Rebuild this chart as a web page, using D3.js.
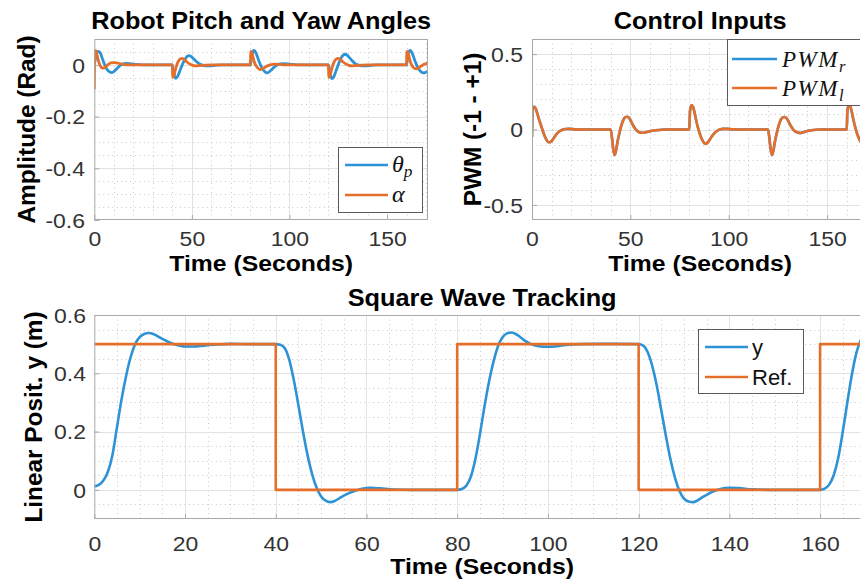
<!DOCTYPE html>
<html>
<head>
<meta charset="utf-8">
<script src="https://cdn.jsdelivr.net/npm/d3@7"></script>
<style>
  body { margin: 0; background: #fff; }
  svg { display: block; }
</style>
</head>
<body>
<svg id="fig" width="860" height="582"></svg>
<script>
// ---------------- data ----------------
const timeDomain = [0, 171];

// pitch angle theta_p (rad)
const pitchTime = [0,0.5,1,2,3,4,5,6,7,8,9,10,11,12,13,14.5,16,18,20,23,27,40,
  40.3,41,41.7,42.5,43.5,44.5,45.5,46.5,47.5,48.5,49.5,50.5,52,53.5,55,57,59,62,66,80,
  80.3,81,81.8,82.6,83.5,84.5,85.5,86.5,87.5,88.5,89.5,90.5,92,93.5,95,97,100,104,120,
  120.3,121,121.8,122.6,123.5,124.5,125.5,126.5,127.5,128.5,129.5,130.5,132,133.5,135,137,139,142,146,160,
  160.3,161,161.8,162.6,163.5,164.5,165.5,166.5,167.5,168.5,169.5,170.5,171];
const pitchValues = [0,0.02,0.04,0.052,0.047,0.027,0.006,-0.011,-0.022,-0.028,-0.03,-0.026,-0.019,-0.011,-0.004,0.003,0.006,0.005,0.003,0.001,0,0,
  -0.01,-0.04,-0.052,-0.047,-0.03,-0.01,0.008,0.022,0.032,0.036,0.033,0.026,0.015,0.006,0,-0.004,-0.004,-0.002,0,0,
  0.012,0.045,0.056,0.05,0.033,0.012,-0.006,-0.019,-0.027,-0.031,-0.028,-0.021,-0.01,-0.002,0.004,0.005,0.003,0,0,
  -0.01,-0.04,-0.053,-0.048,-0.031,-0.01,0.01,0.027,0.037,0.041,0.038,0.03,0.017,0.006,0,-0.004,-0.004,-0.002,0,0,
  0.012,0.045,0.056,0.05,0.033,0.012,-0.006,-0.019,-0.027,-0.031,-0.03,-0.027,-0.025];

// yaw angle alpha (rad)
const yawTime = [0,0.3,0.8,1.5,2.5,3.5,4.5,5.5,6.5,7.5,8.5,10,11.5,13,15,18,40,
  40.1,40.6,41.3,42,43,44,45,46,47.5,49,50.5,52,54,57,60,80,
  80.1,80.6,81.3,82,83,84,85,86,87.5,89,90.5,92,95,98,120,
  120.1,120.6,121.3,122,123,124,125,126,127.5,129,130.5,132,134,137,140,160,
  160.1,160.6,161.3,162,163,164,165,166,167.5,169,170,171];
const yawValues = [-0.095,0.055,0.055,0.035,0.006,-0.009,-0.013,-0.01,-0.003,0.004,0.008,0.009,0.008,0.005,0.002,0,0,
  -0.048,-0.046,-0.027,-0.007,0.013,0.023,0.025,0.021,0.011,0.003,-0.002,-0.004,-0.003,-0.001,0,0,
  0.052,0.05,0.031,0.011,-0.005,-0.014,-0.018,-0.016,-0.009,-0.003,0.001,0.003,0.002,0,0,
  -0.048,-0.046,-0.027,-0.007,0.013,0.023,0.025,0.021,0.011,0.003,-0.002,-0.004,-0.003,-0.001,0,0,
  0.052,0.05,0.031,0.011,-0.005,-0.013,-0.015,-0.012,-0.005,0.002,0.005,0.007];

// motor commands (normalised PWM)
const pwmTime = [0,0.3,1,1.8,2.6,3.5,4.5,5.5,6.5,7.5,8.5,9.5,10.5,11.5,12.5,14,15.5,17,19,22,26,40,
  40.6,41.3,42,42.7,43.5,44.5,45.5,46.5,47.5,48.5,49.5,50.5,51.5,52.5,53.5,55,56.5,58,60,62,65,68,80,
  80.3,81,81.7,82.5,83.3,84.2,85.2,86.2,87.2,88.2,89.2,90.2,91.2,92.5,94,95.5,97,99,102,106,120,
  120.6,121.3,122,122.7,123.5,124.5,125.5,126.5,127.5,128.5,129.5,130.5,131.5,132.5,133.5,135,136.5,138,140,143,146,160,
  160.3,161,161.7,162.5,163.3,164.2,165.2,166.2,167.2,168.2,169.2,170.2,171];
const pwmRightValues = [-0.05,0.14,0.15,0.14,0.11,0.07,0.03,-0.01,-0.045,-0.072,-0.085,-0.082,-0.068,-0.048,-0.03,-0.012,-0.002,0.003,0.004,0.001,0,0,
  -0.05,-0.13,-0.17,-0.14,-0.08,-0.02,0.03,0.065,0.082,0.085,0.075,0.05,0.025,0.005,-0.01,-0.02,-0.022,-0.018,-0.012,-0.007,-0.003,0,0,
  0.12,0.16,0.155,0.12,0.07,0.02,-0.025,-0.06,-0.085,-0.095,-0.088,-0.07,-0.05,-0.028,-0.01,0,0.004,0.004,0.001,0,0,
  -0.05,-0.13,-0.17,-0.14,-0.08,-0.02,0.03,0.065,0.08,0.083,0.073,0.05,0.025,0.005,-0.01,-0.02,-0.023,-0.018,-0.01,-0.003,0,0,
  0.12,0.16,0.155,0.12,0.07,0.02,-0.025,-0.06,-0.085,-0.095,-0.088,-0.07,-0.055];
// both motors receive the same command
const pwmLeftValues = pwmRightValues.slice();

// square-wave tracking: measured position y and reference
const trackTime = [0,1,2,3,4,5,6,7,8,9,10,11,12,13,14,15,16,18,20,22,24,27,30,35,40,
  41,42,43,44,45,46,47,48,49,50,51,52,53,54,55,56,57.5,59,61,63,66,70,80,
  81,82,83,84,85,86,87,88,89,90,91,92,93,94,95,96,98,100,102,104,107,112,120,
  121,122,123,124,125,126,127,128,129,130,131,132,133,134,135,136.5,138,140,142,145,150,160,
  161,162,163,164,165,166,167,168,169,170,171];
const trackValues = [0.012,0.017,0.032,0.062,0.12,0.215,0.31,0.39,0.455,0.5,0.524,0.535,0.538,0.535,0.527,0.518,0.51,0.498,0.492,0.492,0.495,0.499,0.501,0.5,0.5,
  0.498,0.486,0.445,0.375,0.29,0.2,0.12,0.055,0.008,-0.023,-0.037,-0.042,-0.038,-0.029,-0.02,-0.012,-0.003,0.004,0.007,0.005,0.001,0,0,
  0.003,0.014,0.045,0.105,0.19,0.285,0.37,0.44,0.493,0.524,0.537,0.54,0.534,0.523,0.511,0.502,0.493,0.491,0.493,0.497,0.5,0.501,0.5,
  0.495,0.472,0.425,0.357,0.272,0.186,0.106,0.042,-0.004,-0.03,-0.04,-0.042,-0.036,-0.026,-0.017,-0.005,0.003,0.007,0.006,0.002,0,0,
  0.004,0.018,0.05,0.11,0.2,0.3,0.395,0.47,0.515,0.535,0.542];
const refTime = [0, 40, 80, 120, 160, 171];
const refValues = [0.5, 0, 0.5, 0, 0.5, 0.5];

// ticks
const angleTicksX = [0, 50, 100, 150];
const angleTicksY = [-0.6, -0.4, -0.2, 0];
const pwmTicksX = [0, 50, 100, 150];
const pwmTicksY = [-0.5, 0, 0.5];
const trackTicksX = [0, 20, 40, 60, 80, 100, 120, 140, 160];
const trackTicksY = [0, 0.2, 0.4, 0.6];

// ---------------- drawing ----------------
const BLUE = "#2E93D6";
const ORANGE = "#E56F2A";
const SANS = "'Liberation Sans', Arial, Helvetica, sans-serif";
const SERIF = "'Liberation Serif', 'Times New Roman', serif";
const fmt = d3.formatLocale({decimal: ".", thousands: ",", grouping: [3], currency: ["", ""], minus: "-"}).format("");

const svg = d3.select("#fig");
svg.append("rect").attr("width", 860).attr("height", 582).attr("fill", "#fff");

// text with slight horizontal widening along its own direction
function label(g, str, x, y, o = {}) {
  const t = g.append("text")
    .attr("transform", `translate(${x},${y})` + (o.rotate ? ` rotate(${o.rotate})` : "") + ` scale(${o.sx || 1},1)`)
    .attr("text-anchor", o.anchor || "middle")
    .attr("font-family", o.family || SANS)
    .attr("font-size", o.size || 22)
    .attr("font-weight", o.weight || "normal")
    .attr("fill", o.fill || "#000");
  if (o.dy) t.attr("dy", o.dy);
  if (o.style) t.attr("font-style", o.style);
  t.text(str);
  return t;
}

let clipId = 0;
function panel(c) {
  const g = svg.append("g");
  const x = d3.scaleLinear().domain(c.xDomain).range([c.left, c.right]);
  const y = d3.scaleLinear().domain(c.yDomain).range([c.bottom, c.top]);

  g.append("rect").attr("x", c.left).attr("y", c.top)
    .attr("width", c.right - c.left).attr("height", c.bottom - c.top).attr("fill", "#fff");

  // minor grid (dotted)
  const near = (v, arr) => arr.some(a => Math.abs(a - v) < 1e-9);
  const xMinor = d3.range(c.xDomain[0], c.xDomain[1] + 1e-9, c.xMinor).filter(v => !near(v, c.xTicks) && v > c.xDomain[0]);
  const yStart = Math.ceil(c.yDomain[0] / c.yMinor - 1e-9) * c.yMinor;
  const yMinor = d3.range(yStart, c.yDomain[1] + 1e-9, c.yMinor).map(v => +v.toFixed(6))
    .filter(v => !near(v, c.yTicks) && v > c.yDomain[0] + 1e-9 && v < c.yDomain[1] - 1e-9);
  const minor = g.append("g").attr("stroke", "#c9c9c9").attr("stroke-width", 1).attr("stroke-dasharray", "1 3.5");
  minor.selectAll(".vx").data(xMinor).join("line")
    .attr("x1", d => Math.round(x(d)) + 0.5).attr("x2", d => Math.round(x(d)) + 0.5)
    .attr("y1", c.top).attr("y2", c.bottom);
  minor.selectAll(".hy").data(yMinor).join("line")
    .attr("y1", d => Math.round(y(d)) + 0.5).attr("y2", d => Math.round(y(d)) + 0.5)
    .attr("x1", c.left).attr("x2", c.right);

  // major grid
  const major = g.append("g").attr("stroke", "#e2e2e2").attr("stroke-width", 1);
  major.selectAll(".gx").data(c.xTicks.filter(v => v > c.xDomain[0])).join("line")
    .attr("x1", d => Math.round(x(d)) + 0.5).attr("x2", d => Math.round(x(d)) + 0.5)
    .attr("y1", c.top).attr("y2", c.bottom);
  major.selectAll(".gy").data(c.yTicks.filter(v => v > c.yDomain[0] && v < c.yDomain[1])).join("line")
    .attr("y1", d => Math.round(y(d)) + 0.5).attr("y2", d => Math.round(y(d)) + 0.5)
    .attr("x1", c.left).attr("x2", c.right);

  // data lines
  const id = "clip" + (clipId++);
  g.append("clipPath").attr("id", id).append("rect")
    .attr("x", c.left).attr("y", c.top).attr("width", c.right - c.left).attr("height", c.bottom - c.top);
  const lines = g.append("g").attr("clip-path", `url(#${id})`);
  c.series.forEach(s => {
    const line = d3.line().x(d => x(d[0])).y(d => y(d[1])).curve(s.curve || d3.curveMonotoneX);
    lines.append("path").datum(d3.zip(s.t, s.v))
      .attr("d", line).attr("fill", "none").attr("stroke", s.color)
      .attr("stroke-width", s.width || 2.6).attr("stroke-linejoin", "round");
  });

  // axes box
  g.append("rect").attr("x", c.left + 0.5).attr("y", c.top + 0.5)
    .attr("width", c.right - c.left - 1).attr("height", c.bottom - c.top - 1)
    .attr("fill", "none").attr("stroke", "#a9a9a9").attr("stroke-width", 1);

  // tick marks and labels via d3 axes
  const xAxis = d3.axisBottom(x).tickValues(c.xTicks).tickFormat(fmt).tickSizeInner(-5).tickSizeOuter(0).tickPadding(14);
  const yAxis = d3.axisLeft(y).tickValues(c.yTicks).tickFormat(fmt).tickSizeInner(-5).tickSizeOuter(0).tickPadding(14);
  const gx = g.append("g").attr("transform", `translate(0,${c.bottom})`).call(xAxis);
  const gy = g.append("g").attr("transform", `translate(${c.left},0)`).call(yAxis);
  [gx, gy].forEach(a => {
    a.select(".domain").remove();
    a.selectAll(".tick line").attr("stroke", "#a9a9a9");
    a.selectAll(".tick text").attr("font-family", SANS).attr("font-size", 20.5).attr("fill", "#333");
  });
  gx.selectAll(".tick text").attr("y", 0).attr("dy", 0)
    .attr("transform", `translate(0,${c.xLabelBase - c.bottom}) scale(1.12,1)`);
  gy.selectAll(".tick text").attr("x", 0).attr("dy", "0.36em")
    .attr("transform", `translate(${c.yLabelRight - c.left},0) scale(1.12,1)`);

  // title and axis labels
  label(g, c.title, (c.left + c.right) / 2, c.titleBase, {size: 23, weight: "bold", sx: 1.1});
  label(g, c.xLabel, (c.left + c.right) / 2, c.xTitleBase, {size: 22.5, weight: "bold", sx: 1.1});
  label(g, c.yLabel, c.yTitleX, (c.top + c.bottom) / 2, {size: 23, weight: "bold", sx: 1.06, rotate: -90});

  return {g, x, y};
}

function legend(g, box, entries) {
  const lg = g.append("g");
  lg.append("rect").attr("x", box.x + 0.5).attr("y", box.y + 0.5).attr("width", box.w).attr("height", box.h)
    .attr("fill", "#fff").attr("stroke", "#5a5a5a").attr("stroke-width", 1);
  entries.forEach((e, i) => {
    const cy = box.y + box.first + i * box.gap;
    lg.append("line").attr("x1", box.x + box.l0).attr("x2", box.x + box.l1)
      .attr("y1", cy).attr("y2", cy).attr("stroke", e.color).attr("stroke-width", 2.6);
    const t = lg.append("text").attr("x", box.x + box.tx).attr("y", cy + box.base)
      .attr("font-family", e.family || SANS).attr("font-size", e.size || 22)
      .attr("font-style", e.style || "normal").attr("letter-spacing", e.spacing || 0).attr("fill", "#111");
    t.append("tspan").text(e.main);
    if (e.sub) t.append("tspan").attr("dy", 5).attr("font-size", (e.size || 22) * 0.72).text(e.sub);
  });
}

// ---- Robot pitch and yaw angles ----
const pA = panel({
  left: 94.3, right: 428, top: 39, bottom: 220,
  xDomain: timeDomain, yDomain: [-0.6, 0.1],
  xTicks: angleTicksX, yTicks: angleTicksY, xMinor: 10, yMinor: 0.05,
  xLabelBase: 245.5, yLabelRight: 85,
  title: "Robot Pitch and Yaw Angles", titleBase: 29,
  xLabel: "Time (Seconds)", xTitleBase: 271,
  yLabel: "Amplitude (Rad)", yTitleX: 35,
  series: [
    {t: pitchTime, v: pitchValues, color: BLUE, width: 2.8},
    {t: yawTime, v: yawValues, color: ORANGE, width: 2.8}
  ]
});
legend(pA.g, {x: 338, y: 147, w: 84, h: 65, first: 18, gap: 30, l0: 7, l1: 50, tx: 54, base: 7},
  [{main: "θ", sub: "p", color: BLUE, family: SERIF, style: "italic", size: 24},
   {main: "α", color: ORANGE, family: SERIF, style: "italic", size: 24}]);

// ---- Control inputs ----
const pB = panel({
  left: 532, right: 868.4, top: 39, bottom: 220,
  xDomain: timeDomain, yDomain: [-0.6, 0.6],
  xTicks: pwmTicksX, yTicks: pwmTicksY, xMinor: 10, yMinor: 0.1,
  xLabelBase: 245.5, yLabelRight: 523,
  title: "Control Inputs", titleBase: 29,
  xLabel: "Time (Seconds)", xTitleBase: 271,
  yLabel: "PWM (-1 - +1)", yTitleX: 481,
  series: [
    {t: pwmTime, v: pwmRightValues, color: BLUE, width: 2.6},
    {t: pwmTime, v: pwmLeftValues, color: ORANGE, width: 2.6}
  ]
});
legend(pB.g, {x: 727, y: 39, w: 135, h: 66, first: 20, gap: 29, l0: 5, l1: 50, tx: 55, base: 8},
  [{main: "PWM", sub: "r", color: BLUE, family: SERIF, style: "italic", size: 23, spacing: 1.5},
   {main: "PWM", sub: "l", color: ORANGE, family: SERIF, style: "italic", size: 23, spacing: 1.5}]);

// ---- Square wave tracking ----
const pC = panel({
  left: 94.3, right: 870, top: 315, bottom: 519,
  xDomain: timeDomain, yDomain: [-0.1, 0.6],
  xTicks: trackTicksX, yTicks: trackTicksY, xMinor: 5, yMinor: 0.05,
  xLabelBase: 551, yLabelRight: 86,
  title: "Square Wave Tracking", titleBase: 306,
  xLabel: "Time (Seconds)", xTitleBase: 574,
  yLabel: "Linear Posit. y (m)", yTitleX: 42,
  series: [
    {t: trackTime, v: trackValues, color: BLUE, width: 2.6},
    {t: refTime, v: refValues, color: ORANGE, width: 2.6, curve: d3.curveStepAfter}
  ]
});
legend(pC.g, {x: 698, y: 329, w: 105, h: 64, first: 18, gap: 30, l0: 7, l1: 50, tx: 54, base: 8},
  [{main: "y", color: BLUE, size: 22},
   {main: "Ref.", color: ORANGE, size: 22}]);
</script>
</body>
</html>
